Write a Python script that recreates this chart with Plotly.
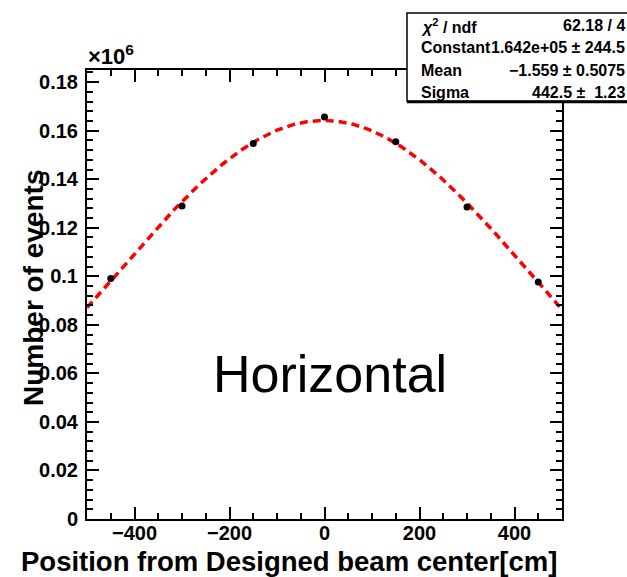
import numpy as np
import plotly.graph_objects as go

# ---------------- data ----------------
x_pos = [-450, -300, -150, 0, 150, 300, 450]              # cm
events = [99100, 129000, 154700, 165600, 155400, 128600, 97700]

fit_constant = 1.642e5
fit_mean = -1.559
fit_sigma = 442.5

stat_labels = ["<i>χ</i><sup>2</sup> / ndf", "Constant", "Mean", "Sigma"]
stat_values = ["62.18 / 4", "1.642e+05 ± 244.5", "−1.559 ± 0.5075", "442.5 ±  1.23"]

x_title = "Position from Designed beam center[cm]"
y_title = "Number of events"
label_text = "Horizontal"
y_scale = 1e6

# ---------------- geometry helpers (pixels -> paper) ----------------
W, H = 627, 577
L, R, T, B = 87, 562, 70, 519


def px(x):
    return (x - L) / (R - L)


def py(y):
    return (B - y) / (B - T)


FONT = "Liberation Sans"

fit_x = np.linspace(-500, 500, 401)
fit_y = fit_constant * np.exp(-0.5 * ((fit_x - fit_mean) / fit_sigma) ** 2)

fig = go.Figure()
fig.add_trace(go.Scatter(
    x=fit_x, y=fit_y / y_scale, mode="lines",
    line=dict(color="#ff0000", width=3.5, dash="8px,5px"),
    hoverinfo="skip", showlegend=False))
fig.add_trace(go.Scatter(
    x=x_pos, y=[v / y_scale for v in events], mode="markers",
    marker=dict(color="black", size=7), showlegend=False))

axis_common = dict(
    ticks="inside", tickcolor="black", tickwidth=1.5, ticklen=12,
    showline=True, linecolor="black", linewidth=2, mirror="ticks",
    showgrid=False, zeroline=False,
    tickfont=dict(family=FONT, size=20, color="black", weight="bold"),
)

fig.update_layout(
    width=W, height=H, autosize=False,
    margin=dict(l=L, r=W - R, t=T, b=H - B, pad=0),
    paper_bgcolor="white", plot_bgcolor="white",
    xaxis=dict(range=[-500, 500], tick0=0, dtick=200,
               minor=dict(tick0=0, dtick=50, ticks="inside", ticklen=6,
                          tickwidth=1.5, tickcolor="black", showgrid=False),
               ticklabelstandoff=-5, **axis_common),
    yaxis=dict(range=[0, 0.185], tick0=0, dtick=0.02,
               minor=dict(tick0=0, dtick=0.004, ticks="inside", ticklen=6,
                          tickwidth=1.5, tickcolor="black", showgrid=False),
               ticklabelstandoff=3, **axis_common),
)

annotations = []
# axis titles
annotations.append(dict(text=x_title, xref="paper", yref="paper",
                        x=px(289), y=py(561), xanchor="center", yanchor="middle",
                        showarrow=False,
                        font=dict(family=FONT, size=27.5, color="black", weight="bold")))
annotations.append(dict(text=y_title, xref="paper", yref="paper",
                        x=px(33), y=py(288), xanchor="center", yanchor="middle",
                        textangle=-90, showarrow=False,
                        font=dict(family=FONT, size=28, color="black", weight="bold")))
# exponent label
annotations.append(dict(text="×10<sup>6</sup>", xref="paper", yref="paper",
                        x=px(86), y=py(71), xanchor="left", yanchor="bottom",
                        showarrow=False,
                        font=dict(family=FONT, size=22, color="black", weight="bold")))
# big label
annotations.append(dict(text=label_text, xref="paper", yref="paper",
                        x=px(330), y=py(374), xanchor="center", yanchor="middle",
                        showarrow=False,
                        font=dict(family=FONT, size=52, color="black")))

# stat box
shapes = [
    dict(type="rect", xref="paper", yref="paper",
         x0=px(407), x1=px(680), y0=py(13), y1=py(101),
         line=dict(color="black", width=1.5), fillcolor="white", layer="above"),
    dict(type="line", xref="paper", yref="paper",
         x0=px(407), x1=px(680), y0=py(102), y1=py(102),
         line=dict(color="black", width=2.5), layer="above"),
]
row_y = [26, 48, 71, 92]
for lab, val, ry in zip(stat_labels, stat_values, row_y):
    annotations.append(dict(text=lab, xref="paper", yref="paper",
                            x=px(419), y=py(ry), xanchor="left", yanchor="middle",
                            showarrow=False,
                            font=dict(family=FONT, size=16, color="black", weight="bold")))
    annotations.append(dict(text=val, xref="paper", yref="paper",
                            x=px(627), y=py(ry), xanchor="right", yanchor="middle",
                            showarrow=False,
                            font=dict(family=FONT, size=16, color="black", weight="bold")))

fig.update_layout(annotations=annotations, shapes=shapes)
fig.write_html("out.html")
